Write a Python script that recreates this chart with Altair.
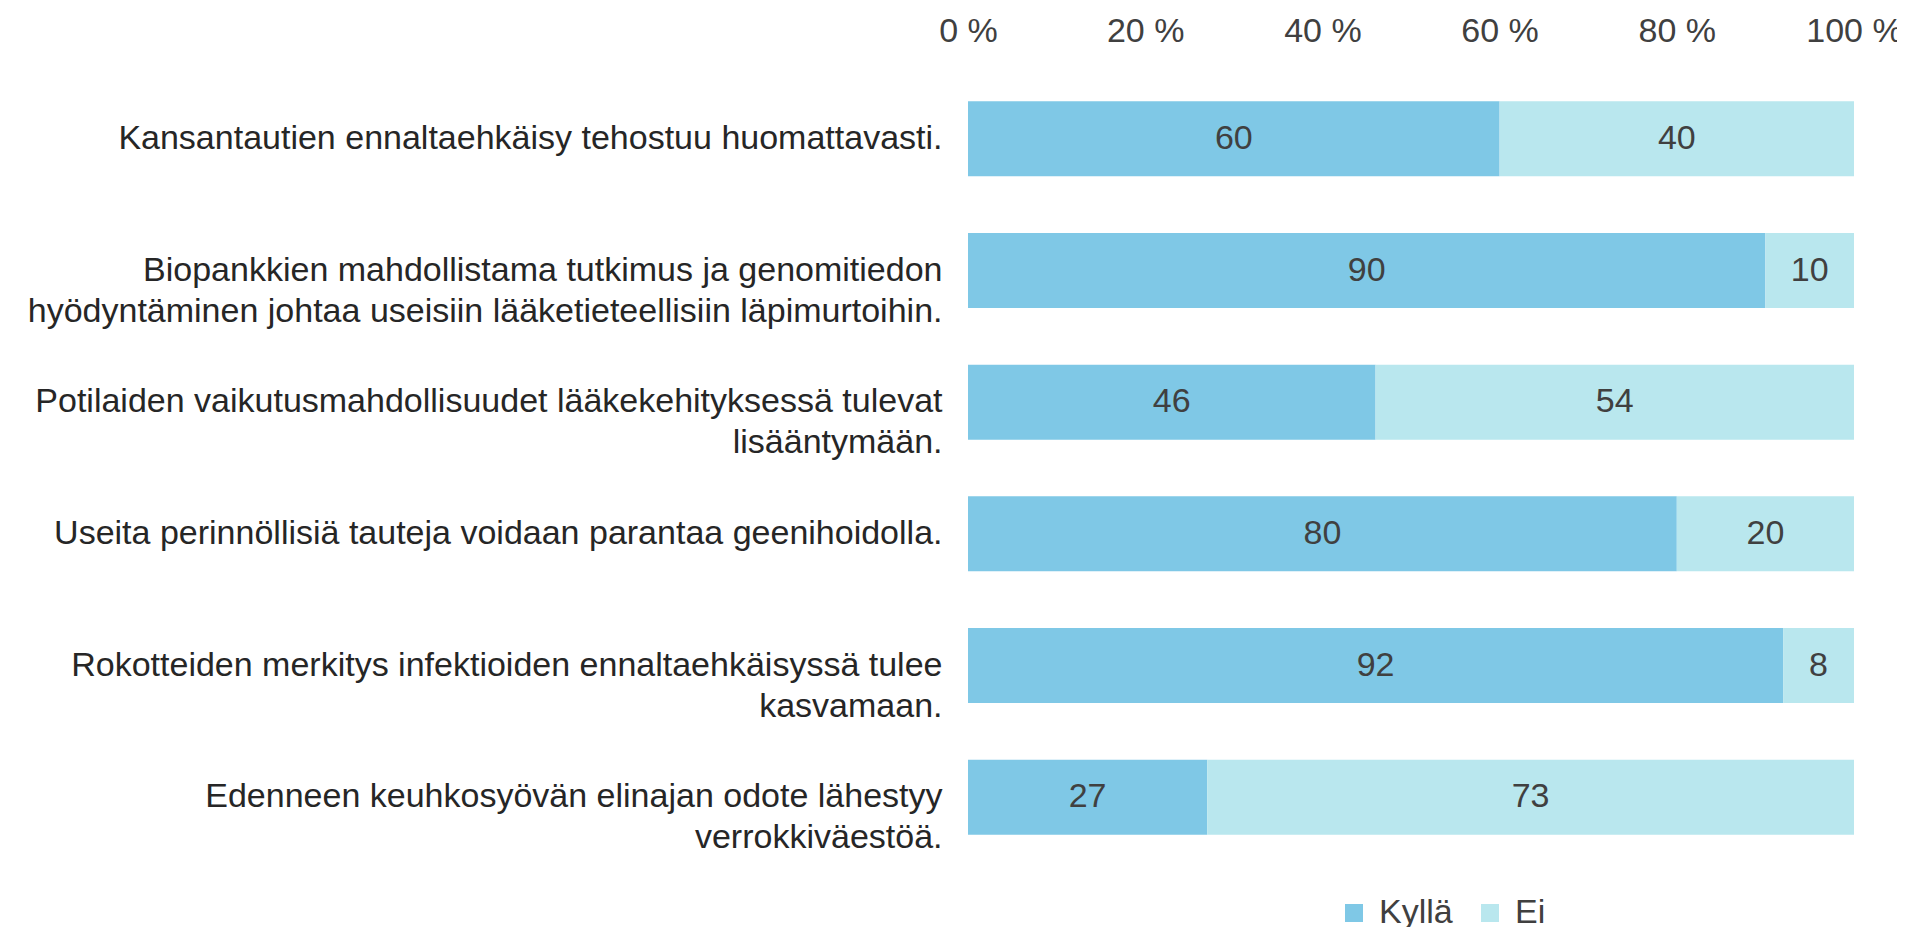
import altair as alt
import pandas as pd

categories = [
    "Kansantautien ennaltaehkäisy tehostuu huomattavasti.",
    "Biopankkien mahdollistama tutkimus ja genomitiedon\nhyödyntäminen johtaa useisiin lääketieteellisiin läpimurtoihin.",
    "Potilaiden vaikutusmahdollisuudet lääkekehityksessä tulevat\nlisääntymään.",
    "Useita perinnöllisiä tauteja voidaan parantaa geenihoidolla.",
    "Rokotteiden merkitys infektioiden ennaltaehkäisyssä tulee\nkasvamaan.",
    "Edenneen keuhkosyövän elinajan odote lähestyy\nverrokkiväestöä.",
]
kylla = [60, 90, 46, 80, 92, 27]
ei = [40, 10, 54, 20, 8, 73]
series = ["Kyllä", "Ei"]
colors = ["#7FC8E6", "#B9E7EE"]
tick_values = [0, 20, 40, 60, 80, 100]

rows = []
for c, k, e in zip(categories, kylla, ei):
    rows.append({"cat": c, "series": "Kyllä", "order": 0, "value": k})
    rows.append({"cat": c, "series": "Ei", "order": 1, "value": e})
df = pd.DataFrame(rows)

FONT = "Liberation Sans"
TXT = "#404040"
FS = 34

base = alt.Chart(df).encode(
    y=alt.Y("cat:N", sort=categories, title=None,
            scale=alt.Scale(paddingInner=0.43, paddingOuter=0.215),
            axis=alt.Axis(labelExpr="split(datum.label, '\\n')", labelFont=FONT,
                          labelFontSize=FS, labelColor="#262626", labelPadding=26,
                          labelLineHeight=41, labelLimit=1000, ticks=False,
                          domain=False, grid=False, labelAlign="right")),
)

bars = base.mark_bar().encode(
    x=alt.X("value:Q", stack="zero", title=None,
            scale=alt.Scale(domain=[0, 100], nice=False),
            axis=alt.Axis(orient="top", values=tick_values, labelExpr="datum.value + ' %'",
                          labelFont=FONT, labelFontSize=FS, labelColor=TXT,
                          ticks=False, domain=False, grid=False, labelPadding=25,
                          labelFlush=False)),
    color=alt.Color("series:N", sort=series,
                    scale=alt.Scale(domain=series, range=colors),
                    legend=alt.Legend(title=None, orient="none", direction="horizontal",
                                      legendX=369, legendY=823, symbolType="square",
                                      symbolSize=324, symbolStrokeWidth=0,
                                      labelFont=FONT, labelFontSize=FS, labelColor=TXT,
                                      columnPadding=20, labelOffset=8)),
    order=alt.Order("order:Q"),
)

labels = base.mark_text(font=FONT, fontSize=FS, color=TXT, baseline="middle").encode(
    x=alt.X("mid:Q"),
    text=alt.Text("value:Q"),
).transform_stack(
    stack="value", groupby=["cat"], sort=[alt.SortField("order")], as_=["v0", "v1"]
).transform_calculate(mid="(datum.v0 + datum.v1) / 2")

chart = (bars + labels).properties(
    width=886, height=790,
    autosize=alt.AutoSizeParams(type="none"),
    padding={"left": 960, "top": 65, "right": 43, "bottom": 64},
    background="white",
).configure_view(stroke=None, strokeWidth=0)

chart.save("out.html", embed_options={"renderer": "svg", "actions": False})
